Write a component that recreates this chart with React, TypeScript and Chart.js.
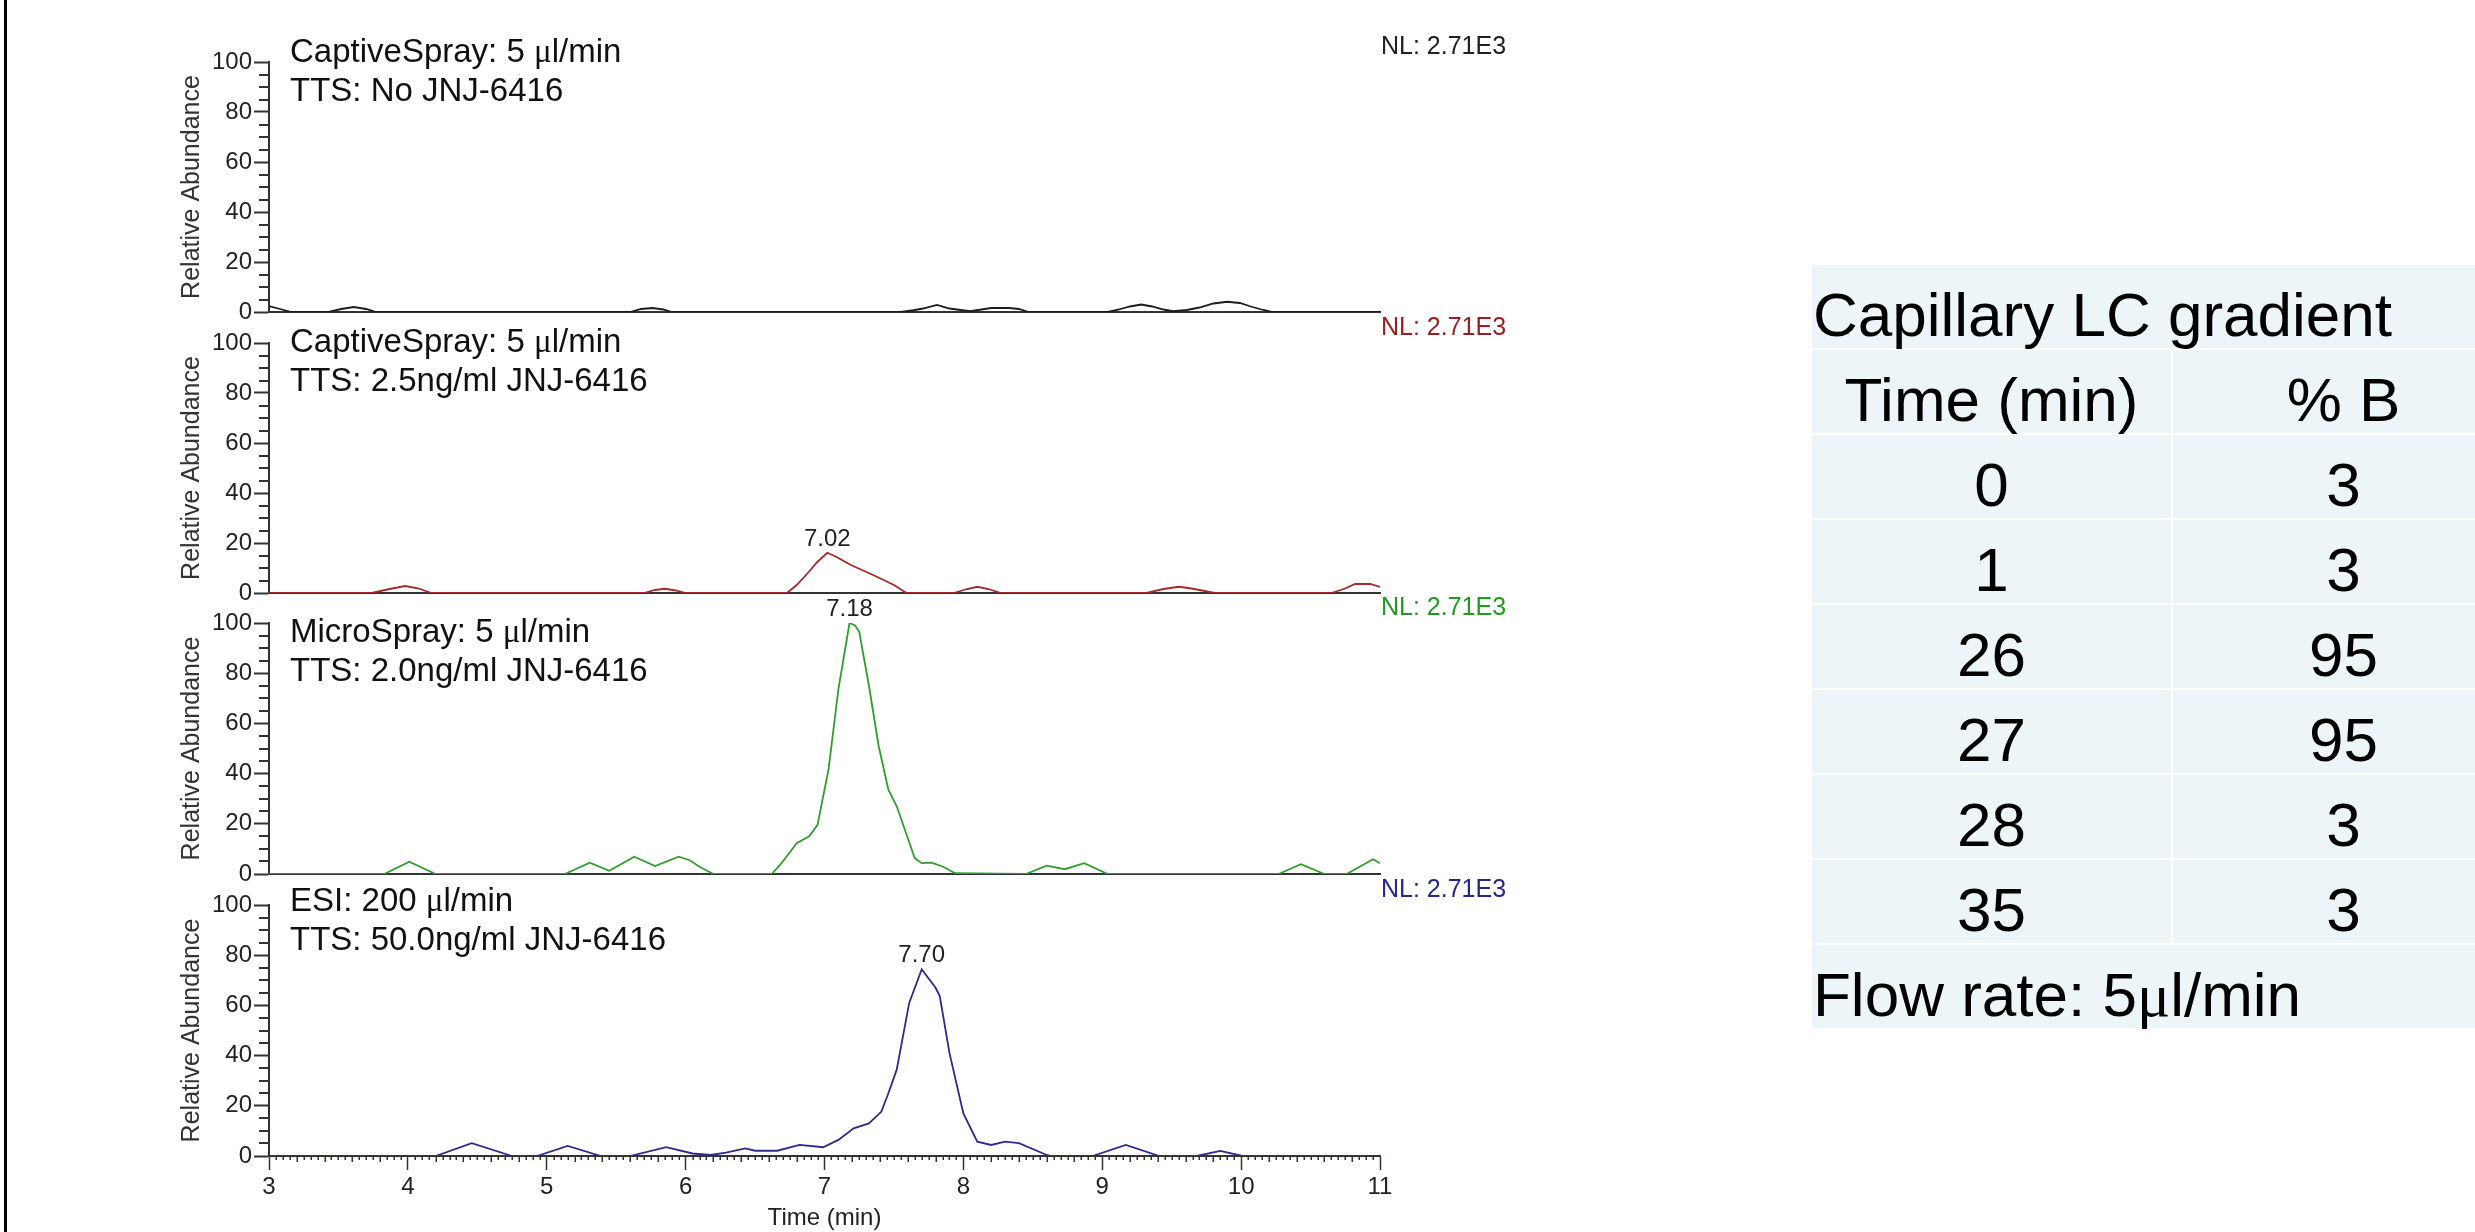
import React, { useEffect, useRef } from 'react';
import { Chart, registerables } from 'chart.js';

Chart.register(...registerables);

const SANS = '"Liberation Sans", Arial, Helvetica, sans-serif';
const SERIF = '"Liberation Serif", "DejaVu Serif", "Times New Roman", serif';

// ---------------- data (time in min, relative abundance in %) ----------------
const captiveBlankTrace: [number, number][] = [
  [3.0, 2.4], [3.08, 1.2], [3.16, 0], [3.43, 0], [3.52, 1.2], [3.61, 2.0], [3.70, 1.2], [3.77, 0],
  [5.60, 0], [5.68, 1.2], [5.76, 1.6], [5.84, 1.0], [5.90, 0],
  [7.55, 0], [7.64, 0.7], [7.71, 1.4], [7.81, 2.8], [7.90, 1.4], [7.98, 0.8], [8.05, 0.3],
  [8.13, 1.0], [8.20, 1.6], [8.33, 1.6], [8.40, 1.2], [8.47, 0],
  [9.04, 0], [9.12, 1.0], [9.20, 2.2], [9.28, 3.0], [9.36, 2.2], [9.44, 1.0], [9.51, 0.3],
  [9.61, 0.8], [9.70, 1.8], [9.80, 3.4], [9.90, 4.1], [9.99, 3.6], [10.07, 2.2], [10.16, 0.8], [10.22, 0],
  [11.0, 0],
];

const captive25Trace: [number, number][] = [
  [3.0, 0], [3.74, 0], [3.86, 1.5], [3.98, 2.8], [4.08, 1.8], [4.17, 0],
  [5.70, 0], [5.78, 1.2], [5.85, 1.7], [5.93, 1.0], [6.0, 0],
  [6.73, 0], [6.80, 3.2], [6.88, 8.0], [6.95, 12.5], [7.02, 16.1], [7.08, 14.6], [7.19, 11.2],
  [7.35, 7.2], [7.50, 3.2], [7.59, 0],
  [7.93, 0], [8.02, 1.5], [8.10, 2.5], [8.18, 1.6], [8.27, 0],
  [9.32, 0], [9.44, 1.6], [9.55, 2.5], [9.62, 2.0], [9.70, 1.2], [9.81, 0],
  [10.65, 0], [10.75, 1.8], [10.82, 3.6], [10.93, 3.6], [11.0, 2.4],
];

const microSprayTrace: [number, number][] = [
  [3.0, 0], [3.83, 0], [4.01, 4.9], [4.20, 0],
  [5.13, 0], [5.31, 4.5], [5.45, 1.3], [5.63, 6.9], [5.78, 3.2], [5.95, 6.9], [6.03, 5.5], [6.10, 2.9], [6.20, 0],
  [6.62, 0], [6.69, 4.3], [6.80, 12.3], [6.89, 15.0], [6.95, 19.6], [7.03, 42], [7.10, 73.6],
  [7.18, 100], [7.22, 99], [7.25, 96.5], [7.32, 75], [7.39, 51], [7.46, 33.6], [7.52, 27],
  [7.57, 19], [7.65, 6.3], [7.70, 4.3], [7.77, 4.5], [7.85, 3.0], [7.94, 0.3],
  [8.45, 0], [8.60, 3.3], [8.73, 1.9], [8.87, 4.3], [9.04, 0],
  [10.27, 0], [10.43, 3.9], [10.60, 0], [10.76, 0], [10.95, 5.9], [11.0, 4.3],
];

const esiTrace: [number, number][] = [
  [3.0, 0], [4.20, 0], [4.46, 5.1], [4.75, 0], [4.93, 0], [5.15, 4.0], [5.39, 0],
  [5.60, 0], [5.86, 3.5], [6.05, 1.0], [6.18, 0.4], [6.29, 1.3], [6.43, 3.0], [6.50, 2.1],
  [6.66, 2.1], [6.82, 4.4], [6.99, 3.5], [7.10, 6.4], [7.21, 11], [7.32, 13], [7.41, 17.7],
  [7.46, 25], [7.52, 34.4], [7.61, 61], [7.70, 74.4], [7.80, 67], [7.83, 63.7], [7.90, 41],
  [8.00, 17], [8.10, 5.7], [8.20, 4.4], [8.30, 5.7], [8.40, 5.1], [8.60, 0.4], [8.63, 0],
  [8.93, 0], [9.17, 4.4], [9.41, 0], [9.68, 0], [9.85, 2.0], [10.01, 0], [11.0, 0],
];

const panelTraces = [captiveBlankTrace, captive25Trace, microSprayTrace, esiTrace];
const panelSources = ['CaptiveSpray: 5 μl/min', 'CaptiveSpray: 5 μl/min', 'MicroSpray: 5 μl/min', 'ESI: 200 μl/min'];
const panelSamples = ['TTS: No JNJ-6416', 'TTS: 2.5ng/ml JNJ-6416', 'TTS: 2.0ng/ml JNJ-6416', 'TTS: 50.0ng/ml JNJ-6416'];
const normLevels = ['NL: 2.71E3', 'NL: 2.71E3', 'NL: 2.71E3', 'NL: 2.71E3'];
const peakLabels = ['', '7.02', '7.18', '7.70'];
const timeMin = 3;
const timeMax = 11;
const xAxisTitle = 'Time (min)';
const yAxisTitle = 'Relative Abundance';

const gradientTitle = 'Capillary LC gradient';
const gradientHeaders = ['Time (min)', '% B'];
const gradientTimes = [0, 1, 26, 27, 28, 35];
const gradientPercentB = [3, 3, 95, 95, 3, 3];
const flowRateText = 'Flow rate: 5μl/min';

// ---------------- styles / layout ----------------
const traceColors = ['#1c1c1c', '#a32a2a', '#2f9e2f', '#2b2b8e'];
const nlColors = ['#222222', '#9a1e1e', '#219a21', '#27278a'];
const AXIS = '#333333';
const CANVAS_W = 1560;
const PLOT_LEFT = 269;
const PLOT_RIGHT = 1380;
const TOP_PAD = 60;
const Y_AXIS_W = 100;
const X_AXIS_H = 77;
const panelTop = [62, 343, 623, 905];
const panelBottom = [312, 593, 874, 1156];
const labelCenterOffsets = [[-12, 27], [-3, 36], [7, 46], [-6, 33]];
const LABEL_SIZE = 33;

function drawMixed(ctx: CanvasRenderingContext2D, text: string, x: number, y: number, size: number) {
  const parts = text.split('μ');
  let cx = x;
  parts.forEach((p, idx) => {
    ctx.font = `${size}px ${SANS}`;
    ctx.fillText(p, cx, y);
    cx += ctx.measureText(p).width;
    if (idx < parts.length - 1) {
      ctx.font = `${size}px ${SERIF}`;
      ctx.fillText('μ', cx, y);
      cx += ctx.measureText('μ').width;
    }
  });
}

function makeDeco(i: number, isBottom: boolean) {
  return {
    id: 'deco' + i,
    afterDraw(chart: any) {
      const { ctx, chartArea } = chart;
      const xs = chart.scales.x;
      const ys = chart.scales.y;
      ctx.save();
      // minor y ticks every 5
      ctx.strokeStyle = AXIS;
      ctx.lineWidth = 2;
      ctx.beginPath();
      for (let v = 0; v <= 100; v += 5) {
        if (v % 20 === 0) continue;
        const py = Math.round(ys.getPixelForValue(v));
        ctx.moveTo(chartArea.left - 10, py);
        ctx.lineTo(chartArea.left, py);
      }
      ctx.stroke();
      // minor x ticks on the bottom axis
      if (isBottom) {
        ctx.lineWidth = 1.5;
        ctx.beginPath();
        const n = Math.round((timeMax - timeMin) / 0.05);
        for (let k = 1; k < n; k++) {
          if (k % 20 === 0) continue;
          const px = Math.round(xs.getPixelForValue(timeMin + k * 0.05)) + 0.25;
          const len = k % 4 === 0 ? 6 : 4;
          ctx.moveTo(px, chartArea.bottom);
          ctx.lineTo(px, chartArea.bottom + len);
        }
        ctx.stroke();
      }
      // panel labels
      ctx.fillStyle = '#111';
      ctx.textAlign = 'left';
      ctx.textBaseline = 'alphabetic';
      const capHalf = LABEL_SIZE * 0.358;
      drawMixed(ctx, panelSources[i], 290, chartArea.top + labelCenterOffsets[i][0] + capHalf, LABEL_SIZE);
      drawMixed(ctx, panelSamples[i], 290, chartArea.top + labelCenterOffsets[i][1] + capHalf, LABEL_SIZE);
      // NL label
      ctx.font = `25px ${SANS}`;
      ctx.fillStyle = nlColors[i];
      ctx.fillText(normLevels[i], chartArea.right + 1, chartArea.top - 8);
      // peak label
      if (peakLabels[i]) {
        const tr = panelTraces[i];
        let best = 0;
        for (let k = 0; k < tr.length; k++) if (tr[k][1] > tr[best][1]) best = k;
        const px = xs.getPixelForValue(tr[best][0]);
        const py = ys.getPixelForValue(tr[best][1]);
        ctx.font = `24px ${SANS}`;
        ctx.fillStyle = '#222';
        ctx.textAlign = 'center';
        ctx.fillText(peakLabels[i], px, py - 7);
      }
      ctx.restore();
    },
  };
}

function canvasGeom(i: number) {
  const isBottom = i === panelTraces.length - 1;
  const top = panelTop[i] - TOP_PAD;
  const bottomPad = isBottom ? 0 : 20;
  const h = TOP_PAD + (panelBottom[i] - panelTop[i]) + (isBottom ? X_AXIS_H : 0) + bottomPad;
  return { isBottom, top, h, bottomPad };
}

export default function App() {
  const r0 = useRef<HTMLCanvasElement>(null);
  const r1 = useRef<HTMLCanvasElement>(null);
  const r2 = useRef<HTMLCanvasElement>(null);
  const r3 = useRef<HTMLCanvasElement>(null);
  const refs = [r0, r1, r2, r3];

  useEffect(() => {
    document.body.style.margin = '0';
    document.body.style.overflow = 'hidden';
    Chart.defaults.font.family = SANS;
    const charts = panelTraces.map((trace, i) => {
      const { isBottom, bottomPad } = canvasGeom(i);
      const canvas = refs[i].current as HTMLCanvasElement;
      return new Chart(canvas, {
        type: 'line',
        data: {
          datasets: [
            {
              data: trace.map(([t, v]) => ({ x: t, y: v })),
              borderColor: traceColors[i],
              borderWidth: 1.8,
              pointRadius: 0,
              tension: 0,
              fill: false,
            },
          ],
        },
        options: {
          animation: false,
          responsive: false,
          maintainAspectRatio: false,
          events: [],
          layout: {
            padding: { left: PLOT_LEFT - Y_AXIS_W, right: CANVAS_W - PLOT_RIGHT, top: TOP_PAD, bottom: bottomPad },
          },
          plugins: { legend: { display: false }, tooltip: { enabled: false }, title: { display: false } },
          scales: {
            x: {
              type: 'linear',
              min: timeMin,
              max: timeMax,
              afterFit: (s: any) => { s.height = isBottom ? X_AXIS_H : 0; },
              ticks: { display: isBottom, stepSize: 1, font: { size: 24 }, color: '#222', padding: 3, maxRotation: 0, autoSkip: false },
              grid: { display: true, drawOnChartArea: false, drawTicks: isBottom, tickLength: 14, tickWidth: 1.5, tickColor: AXIS },
              border: { display: true, color: AXIS, width: 2 },
              title: { display: isBottom, text: xAxisTitle, font: { size: 24 }, color: '#222', padding: { top: 0, bottom: 0 } },
            },
            y: {
              type: 'linear',
              min: 0,
              max: 100,
              afterFit: (s: any) => { s.width = Y_AXIS_W; },
              ticks: { stepSize: 20, font: { size: 24 }, color: '#222', padding: 2 },
              grid: { drawOnChartArea: false, drawTicks: true, tickLength: 15, tickWidth: 2, tickColor: AXIS },
              border: { display: true, color: AXIS, width: 2 },
              title: { display: true, text: yAxisTitle, font: { size: 25 }, color: '#333', padding: { top: 8, bottom: 0 } },
            },
          },
        } as any,
        plugins: [makeDeco(i, isBottom)],
      });
    });
    return () => charts.forEach((c) => c.destroy());
  }, []);

  const TABLE_LEFT = 1812;
  const COL_SPLIT = 2172;
  const TABLE_RIGHT = 2514;
  const ROW0 = 265;
  const ROW_STEP = 85;
  const ROW_H = 83;
  const BG = '#eef5f9';
  const fontCss: React.CSSProperties = {
    fontFamily: SANS,
    fontSize: 62,
    lineHeight: '62px',
    color: '#000',
    whiteSpace: 'nowrap',
    position: 'absolute',
    top: 18.5,
  };
  const mu = (s: string) => {
    const parts = s.split('μ');
    return parts.map((p, k) => (
      <React.Fragment key={k}>
        {p}
        {k < parts.length - 1 ? <span style={{ fontFamily: SERIF }}>μ</span> : null}
      </React.Fragment>
    ));
  };
  const cell = (key: string, left: number, width: number, row: number, text: React.ReactNode, center: boolean) => (
    <div
      key={key}
      style={{ position: 'absolute', left, top: ROW0 + row * ROW_STEP, width, height: ROW_H, background: BG }}
    >
      <div style={{ ...fontCss, left: center ? 0 : 1, right: center ? 0 : undefined, textAlign: center ? 'center' : 'left' }}>
        {text}
      </div>
    </div>
  );

  const cells: React.ReactNode[] = [];
  cells.push(cell('title', TABLE_LEFT, TABLE_RIGHT - TABLE_LEFT, 0, gradientTitle, false));
  cells.push(cell('h0', TABLE_LEFT, COL_SPLIT - TABLE_LEFT - 1, 1, gradientHeaders[0], true));
  cells.push(cell('h1', COL_SPLIT + 1, TABLE_RIGHT - COL_SPLIT - 1, 1, gradientHeaders[1], true));
  gradientTimes.forEach((t, k) => {
    cells.push(cell('t' + k, TABLE_LEFT, COL_SPLIT - TABLE_LEFT - 1, 2 + k, String(t), true));
    cells.push(cell('b' + k, COL_SPLIT + 1, TABLE_RIGHT - COL_SPLIT - 1, 2 + k, String(gradientPercentB[k]), true));
  });
  cells.push(cell('flow', TABLE_LEFT, TABLE_RIGHT - TABLE_LEFT, 2 + gradientTimes.length, mu(flowRateText), false));

  return (
    <div style={{ position: 'absolute', left: 0, top: 0, width: 2475, height: 1232, overflow: 'hidden', background: '#fff' }}>
      <div style={{ position: 'absolute', left: 4, top: 0, width: 3, height: 1232, background: '#000' }} />
      {panelTraces.map((_, i) => {
        const g = canvasGeom(i);
        return (
          <canvas
            key={i}
            ref={refs[i]}
            width={CANVAS_W}
            height={g.h}
            style={{ position: 'absolute', left: 0, top: g.top, width: CANVAS_W, height: g.h }}
          />
        );
      })}
      {cells}
    </div>
  );
}
